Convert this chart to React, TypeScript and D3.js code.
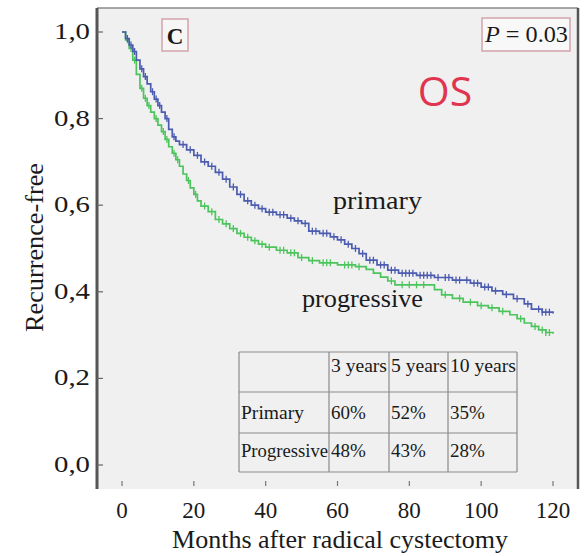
import React from "react";
import * as d3 from "d3";

const xTicks = [0, 20, 40, 60, 80, 100, 120];
const yTicks = [0, 0.2, 0.4, 0.6, 0.8, 1.0];
const yTickLabels = ["0,0", "0,2", "0,4", "0,6", "0,8", "1,0"];

// Kaplan-Meier steps: [month, survival after the step]
const primarySteps: [number, number][] = [
  [0, 1.0], [1, 0.985], [2, 0.97], [3, 0.955], [4, 0.935], [5, 0.915], [6, 0.897], [7, 0.88],
  [8, 0.862], [9, 0.845], [10, 0.83], [11, 0.815], [12, 0.8], [13, 0.775], [14, 0.758], [15, 0.748],
  [16, 0.74], [18, 0.728], [20, 0.715], [22, 0.7], [24, 0.69], [26, 0.676], [28, 0.66], [30, 0.642],
  [32, 0.625], [34, 0.61], [36, 0.6], [38, 0.592], [40, 0.584], [43, 0.578], [46, 0.57], [48, 0.564],
  [50, 0.558], [52, 0.54], [55, 0.535], [58, 0.527], [60, 0.52], [62, 0.51], [64, 0.5], [66, 0.488],
  [68, 0.473], [71, 0.462], [74, 0.45], [77, 0.443], [82, 0.438], [87, 0.433], [92, 0.427], [97, 0.42],
  [100, 0.411], [103, 0.402], [106, 0.394], [109, 0.384], [112, 0.372], [114, 0.36], [117, 0.353], [120, 0.35],
];
const progressiveSteps: [number, number][] = [
  [0, 1.0], [1, 0.982], [2, 0.962], [3, 0.935], [4, 0.902], [5, 0.87], [6, 0.847], [7, 0.83],
  [8, 0.815], [9, 0.8], [10, 0.785], [11, 0.77], [12, 0.752], [13, 0.735], [14, 0.72], [15, 0.705],
  [16, 0.69], [17, 0.672], [18, 0.657], [19, 0.64], [20, 0.625], [21, 0.61], [22, 0.598], [24, 0.585],
  [26, 0.567], [28, 0.557], [30, 0.546], [32, 0.535], [34, 0.526], [36, 0.518], [38, 0.51], [40, 0.503],
  [43, 0.496], [46, 0.49], [49, 0.479], [52, 0.472], [55, 0.467], [60, 0.462], [65, 0.458], [68, 0.452],
  [70, 0.443], [72, 0.434], [74, 0.425], [76, 0.416], [87, 0.405], [89, 0.393], [92, 0.385], [95, 0.376],
  [99, 0.368], [102, 0.363], [105, 0.355], [108, 0.347], [110, 0.338], [112, 0.328], [114, 0.32], [116, 0.312],
  [118, 0.306], [120, 0.303],
];
const primaryCensor = [1.5, 2.5, 3.5, 5.5, 6.5, 8.5, 9.5, 10.5, 12.5, 14.5, 17, 19, 21, 23, 25, 27, 29, 31, 33, 35, 37, 39, 41, 42, 44, 45,
  47, 49, 51, 53, 54, 56, 57, 59, 61, 63, 65, 67, 69, 70, 72, 73, 75, 76, 78, 79, 80, 81, 83, 84, 85, 86, 88,
  90, 91, 93, 94, 96, 98, 99, 101, 102, 104, 107, 110, 113, 116, 117, 118, 119];
const progressiveCensor = [1.5, 2.5, 3.5, 5.5, 6.5, 7.5, 9.5, 11.5, 12.5, 14.5, 15.5, 18.5, 20.5, 23, 25, 27, 29, 31, 33, 35, 37, 39, 41, 44,
  45, 47, 48, 50, 53, 56, 57, 58, 62, 63, 64, 66, 75, 78, 80, 82, 84, 90, 94, 97, 100, 103, 106, 111, 115,
  117, 118, 119];

const tableHeader = ["", "3 years", "5 years", "10 years"];
const tableRows = [
  ["Primary", "60%", "52%", "35%"],
  ["Progressive", "48%", "43%", "28%"],
];

const BLUE = "#4b5bb0";
const GREEN = "#4cc45c";
const INK = "#1a1a1a";
const SERIF = "'Liberation Serif', 'Times New Roman', serif";

export default function App() {
  const x = d3.scaleLinear().domain([0, 120]).range([122, 553]);
  const y = d3.scaleLinear().domain([0, 1]).range([465, 32]);
  const line = d3
    .line<[number, number]>()
    .x((d) => x(d[0]))
    .y((d) => y(d[1]))
    .curve(d3.curveStepAfter);

  const survAt = (steps: [number, number][], t: number) => {
    let s = 1;
    for (const [m, v] of steps) if (m <= t) s = v;
    return s;
  };

  const plot = { left: 97, top: 8, right: 578, bottom: 489 };

  const colX = [239, 329, 389, 448, 517];
  const rowY = [352, 392, 433, 472];
  const headerLen = [0, 56, 56, 66];

  return (
    <svg width={585} height={556} style={{ position: "absolute", left: 0, top: 0, background: "#fff" }}>
      <rect x={plot.left} y={plot.top} width={plot.right - plot.left} height={plot.bottom - plot.top} fill="#f0f0f0" />
      <line x1={plot.left} y1={plot.top} x2={plot.right} y2={plot.top} stroke="#8a8a8a" strokeWidth={1.5} />
      <line x1={plot.right} y1={plot.top} x2={plot.right} y2={plot.bottom} stroke="#555" strokeWidth={2.5} />
      <line x1={plot.left} y1={plot.top} x2={plot.left} y2={plot.bottom} stroke="#555" strokeWidth={3} />

      {/* y ticks */}
      {yTicks.map((t, i) => (
        <g key={t}>
          <line x1={plot.left} x2={plot.left + 6} y1={y(t)} y2={y(t)} stroke="#666" strokeWidth={1.2} />
          <text x={90} y={y(t) + 7} textAnchor="end" fontFamily={SERIF} fontSize={23} textLength={36} lengthAdjust="spacingAndGlyphs" fill={INK}>
            {yTickLabels[i]}
          </text>
        </g>
      ))}
      {/* x ticks */}
      {xTicks.map((t) => (
        <g key={t}>
          <line x1={x(t)} x2={x(t)} y1={481} y2={486} stroke="#777" strokeWidth={1.2} />
          <text x={x(t)} y={518} textAnchor="middle" fontFamily={SERIF} fontSize={23} fill={INK}>
            {t}
          </text>
        </g>
      ))}
      <text x={172} y={548} fontFamily={SERIF} fontSize={25} textLength={336} lengthAdjust="spacingAndGlyphs" fill={INK}>
        Months after radical cystectomy
      </text>
      <text transform="translate(43,332) rotate(-90)" fontFamily={SERIF} fontSize={26} textLength={169} lengthAdjust="spacingAndGlyphs" fill={INK}>
        Recurrence-free
      </text>

      {/* curves */}
      <path d={line(progressiveSteps) || ""} fill="none" stroke={GREEN} strokeWidth={1.7} />
      {progressiveCensor.map((t, i) => (
        <line key={"pc" + i} x1={x(t)} x2={x(t)} y1={y(survAt(progressiveSteps, t)) - 3.5} y2={y(survAt(progressiveSteps, t)) + 3.5} stroke={GREEN} strokeWidth={1.3} />
      ))}
      <path d={line(primarySteps) || ""} fill="none" stroke={BLUE} strokeWidth={1.7} />
      {primaryCensor.map((t, i) => (
        <line key={"bc" + i} x1={x(t)} x2={x(t)} y1={y(survAt(primarySteps, t)) - 3.5} y2={y(survAt(primarySteps, t)) + 3.5} stroke={BLUE} strokeWidth={1.3} />
      ))}

      {/* labels */}
      <rect x={162} y={19} width={26} height={32} fill="#f6f6f6" stroke="#d4a2aa" strokeWidth={1.5} />
      <text x={175} y={44} textAnchor="middle" fontFamily={SERIF} fontWeight="bold" fontSize={23} fill={INK}>C</text>
      <rect x={482} y={18} width={88} height={33} fill="#f8f8f8" stroke="#d4a2aa" strokeWidth={1.5} />
      <text x={485} y={42} fontFamily={SERIF} fontSize={23} textLength={83} lengthAdjust="spacingAndGlyphs" fill={INK}>
        <tspan fontStyle="italic">P</tspan> = 0.03
      </text>
      <text x={445} y={106} textAnchor="middle" fontFamily="'Open Sans', sans-serif" fontSize={41} fill="#e0354f">OS</text>
      <text x={333} y={209} fontFamily={SERIF} fontSize={26} textLength={89} lengthAdjust="spacingAndGlyphs" fill={INK}>primary</text>
      <text x={302} y={307} fontFamily={SERIF} fontSize={26} textLength={121} lengthAdjust="spacingAndGlyphs" fill={INK}>progressive</text>

      {/* table */}
      <g fontFamily={SERIF} fontSize={19} fill={INK}>
        {rowY.map((ry, i) => (
          <line key={"r" + i} x1={colX[0]} x2={colX[colX.length - 1]} y1={ry} y2={ry} stroke="#8a8a8a" strokeWidth={1.2} />
        ))}
        {colX.map((cx, i) => (
          <line key={"c" + i} x1={cx} x2={cx} y1={rowY[0]} y2={rowY[rowY.length - 1]} stroke="#8a8a8a" strokeWidth={1.2} />
        ))}
        {tableHeader.map((h, i) => (
          <text key={"h" + i} x={colX[i] + 2} y={372} textLength={headerLen[i] || undefined} lengthAdjust="spacingAndGlyphs">{h}</text>
        ))}
        {tableRows.map((row, r) =>
          row.map((c, i) => (
            <text key={r + "-" + i} x={colX[i] + 2} y={r === 0 ? 419 : 457} textLength={i === 0 ? (r === 1 ? 87 : 63) : undefined} lengthAdjust="spacingAndGlyphs">{c}</text>
          ))
        )}
      </g>
    </svg>
  );
}
